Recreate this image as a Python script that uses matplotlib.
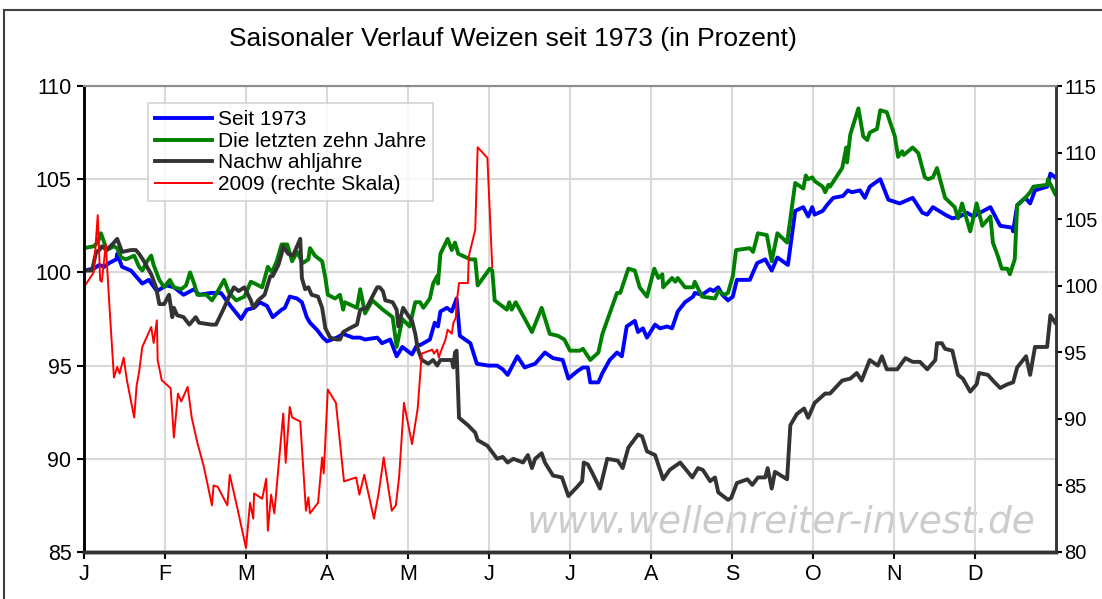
import matplotlib.pyplot as plt
from matplotlib.patches import Rectangle

plt.rcParams['font.family'] = ['Liberation Sans', 'DejaVu Sans']

months = ['J', 'F', 'M', 'A', 'M', 'J', 'J', 'A', 'S', 'O', 'N', 'D']

# x = months since 1 January
seit_x = [0, 0.12, 0.19, 0.25, 0.31, 0.40, 0.41, 0.47, 0.58, 0.64,
          0.72, 0.80, 0.90, 1.02, 1.11, 1.23, 1.36, 1.42, 1.57, 1.69,
          1.81, 1.94, 2.01, 2.10, 2.17, 2.26, 2.33, 2.44, 2.48, 2.54,
          2.63, 2.69, 2.75, 2.79, 2.88, 2.95, 3.00, 3.12, 3.20, 3.32,
          3.41, 3.47, 3.62, 3.68, 3.78, 3.86, 3.93, 4.05, 4.11, 4.15,
          4.27, 4.33, 4.37, 4.40, 4.48, 4.54, 4.60, 4.64, 4.77, 4.85,
          4.99, 5.10, 5.17, 5.23, 5.35, 5.44, 5.57, 5.69, 5.79, 5.91,
          5.98, 6.09, 6.16, 6.22, 6.25, 6.35, 6.40, 6.49, 6.58, 6.64,
          6.70, 6.80, 6.84, 6.90, 6.95, 7.05, 7.11, 7.20, 7.26, 7.33,
          7.42, 7.52, 7.54, 7.63, 7.73, 7.77, 7.83, 7.88, 7.95, 8.01,
          8.06, 8.22, 8.31, 8.41, 8.49, 8.56, 8.69, 8.78, 8.88, 8.94,
          8.99, 9.02, 9.12, 9.17, 9.25, 9.37, 9.43, 9.48, 9.58, 9.64,
          9.70, 9.83, 9.93, 10.07, 10.23, 10.35, 10.41, 10.48, 10.63, 10.72,
          10.81, 10.90, 10.98, 11.06, 11.19, 11.31, 11.46, 11.47, 11.52, 11.62,
          11.68, 11.74, 11.89, 11.93, 11.99]
seit_y = [100.1, 100.2, 100.4, 100.3, 100.5, 100.7, 101.0, 100.3, 100.1, 99.8,
          99.4, 99.6, 99.0, 99.3, 99.2, 98.8, 99.1, 98.8, 98.9, 98.9,
          98.2, 97.5, 98.0, 98.1, 98.4, 98.2, 97.6, 98.0, 98.1, 98.7,
          98.6, 98.4, 97.6, 97.3, 96.9, 96.5, 96.3, 96.5, 96.7, 96.5,
          96.5, 96.4, 96.5, 96.2, 96.4, 95.5, 96.0, 95.6, 96.1, 96.1,
          96.4, 97.3, 97.1, 97.9, 98.1, 97.9, 98.6, 96.6, 96.2, 95.1,
          95.0, 95.0, 94.8, 94.5, 95.5, 94.9, 95.1, 95.7, 95.4, 95.3,
          94.3, 94.7, 94.9, 94.9, 94.1, 94.1, 94.6, 95.3, 95.7, 95.5,
          97.1, 97.4, 96.8, 97.0, 96.5, 97.2, 97.0, 97.1, 97.0, 97.9,
          98.4, 98.7, 98.9, 98.8, 99.1, 99.0, 99.2, 98.8, 98.5, 98.7,
          99.6, 99.6, 100.5, 100.7, 100.1, 100.8, 100.4, 103.3, 103.5, 103.0,
          103.5, 103.1, 103.3, 103.6, 104.0, 104.1, 104.4, 104.3, 104.4, 104.0,
          104.6, 105.0, 103.9, 103.7, 104.0, 103.2, 103.1, 103.5, 103.1, 102.9,
          103.0, 103.2, 103.0, 103.2, 103.5, 102.5, 102.4, 102.2, 103.6, 104.0,
          103.7, 104.4, 104.6, 105.3, 105.1]

zehn_x = [0, 0.12, 0.17, 0.21, 0.25, 0.28, 0.37, 0.41, 0.46, 0.52,
          0.62, 0.68, 0.72, 0.78, 0.83, 0.86, 0.93, 0.99, 1.06, 1.11,
          1.20, 1.26, 1.31, 1.36, 1.40, 1.51, 1.58, 1.64, 1.73, 1.79,
          1.88, 1.98, 2.06, 2.11, 2.20, 2.27, 2.32, 2.38, 2.44, 2.51,
          2.57, 2.63, 2.70, 2.77, 2.79, 2.85, 2.94, 2.98, 3.01, 3.10,
          3.16, 3.20, 3.22, 3.37, 3.41, 3.47, 3.56, 3.69, 3.81, 3.86,
          3.93, 4.02, 4.09, 4.15, 4.19, 4.27, 4.31, 4.36, 4.37, 4.40,
          4.49, 4.54, 4.58, 4.62, 4.77, 4.83, 4.86, 5.01, 5.04, 5.07,
          5.22, 5.25, 5.28, 5.33, 5.53, 5.65, 5.75, 5.85, 5.93, 6.00,
          6.12, 6.16, 6.25, 6.35, 6.40, 6.49, 6.58, 6.62, 6.72, 6.80,
          6.86, 6.95, 7.04, 7.09, 7.14, 7.15, 7.26, 7.30, 7.33, 7.42,
          7.52, 7.54, 7.63, 7.79, 7.83, 7.91, 7.95, 8.01, 8.05, 8.22,
          8.26, 8.32, 8.43, 8.49, 8.56, 8.68, 8.78, 8.88, 8.91, 8.94,
          8.99, 9.02, 9.12, 9.15, 9.19, 9.21, 9.36, 9.41, 9.42, 9.46,
          9.56, 9.62, 9.67, 9.70, 9.79, 9.83, 9.91, 10.01, 10.05, 10.10,
          10.12, 10.23, 10.30, 10.38, 10.42, 10.48, 10.53, 10.63, 10.75, 10.79,
          10.84, 10.94, 11.02, 11.09, 11.19, 11.22, 11.28, 11.33, 11.40, 11.43,
          11.49, 11.52, 11.62, 11.68, 11.72, 11.89, 11.90, 11.99]
zehn_y = [101.3, 101.4, 101.6, 102.1, 101.6, 101.2, 101.4, 101.3, 100.8, 100.7,
          100.9, 100.3, 100.1, 100.6, 100.9, 100.4, 99.6, 99.2, 99.6, 99.2,
          99.1, 99.3, 100.0, 99.4, 98.8, 98.8, 98.5, 98.9, 99.6, 98.9,
          98.5, 98.7, 99.5, 99.4, 99.2, 100.3, 100.0, 100.6, 101.5, 101.5,
          100.6, 101.1, 100.5, 100.7, 101.3, 100.9, 100.6, 99.7, 98.8, 98.6,
          98.8, 98.0, 98.4, 98.1, 99.1, 97.8, 98.5, 98.0, 97.6, 96.0,
          97.5, 97.1, 98.4, 98.4, 98.1, 98.6, 99.4, 99.8, 99.4, 101.0,
          101.8, 101.2, 101.6, 101.0, 100.7, 100.7, 99.3, 100.2, 100.1, 98.5,
          98.0, 98.4, 98.0, 98.4, 96.8, 98.1, 96.7, 96.6, 96.4, 95.8,
          95.8, 95.9, 95.3, 95.7, 96.7, 97.8, 98.9, 98.9, 100.2, 100.1,
          99.2, 98.7, 100.2, 99.7, 99.9, 99.2, 99.7, 99.5, 99.7, 99.2,
          99.2, 99.5, 98.7, 98.6, 99.0, 98.8, 98.9, 99.8, 101.2, 101.3,
          101.1, 102.1, 102.0, 100.6, 102.1, 101.6, 104.8, 104.5, 105.2, 105.0,
          105.1, 104.9, 104.6, 104.3, 104.7, 104.6, 105.6, 106.7, 105.9, 107.4,
          108.8, 107.3, 107.1, 107.5, 107.7, 108.7, 108.6, 107.3, 106.2, 106.5,
          106.3, 106.7, 106.4, 105.1, 105.0, 105.1, 105.6, 104.0, 103.5, 102.9,
          103.7, 102.2, 103.7, 102.5, 103.0, 101.6, 100.9, 100.2, 100.2, 99.9,
          100.7, 103.6, 104.0, 104.3, 104.6, 104.7, 105.0, 104.2]

nach_x = [0, 0.10, 0.15, 0.19, 0.22, 0.28, 0.37, 0.41, 0.47, 0.58,
          0.64, 0.68, 0.74, 0.83, 0.89, 0.93, 0.99, 1.05, 1.09, 1.11,
          1.15, 1.23, 1.30, 1.38, 1.42, 1.57, 1.63, 1.73, 1.79, 1.85,
          1.91, 1.98, 2.06, 2.09, 2.15, 2.23, 2.30, 2.33, 2.40, 2.44,
          2.46, 2.52, 2.58, 2.67, 2.69, 2.73, 2.77, 2.81, 2.89, 2.94,
          2.98, 3.04, 3.12, 3.16, 3.20, 3.28, 3.37, 3.41, 3.49, 3.56,
          3.62, 3.65, 3.69, 3.72, 3.81, 3.86, 3.88, 3.94, 4.00, 4.05,
          4.09, 4.12, 4.17, 4.25, 4.31, 4.36, 4.40, 4.54, 4.56, 4.58,
          4.60, 4.63, 4.74, 4.83, 4.86, 4.98, 5.10, 5.17, 5.23, 5.30,
          5.42, 5.48, 5.53, 5.57, 5.65, 5.69, 5.79, 5.90, 5.98, 6.09,
          6.15, 6.17, 6.22, 6.28, 6.37, 6.46, 6.59, 6.65, 6.72, 6.84,
          6.89, 6.95, 7.05, 7.15, 7.23, 7.36, 7.51, 7.58, 7.64, 7.73,
          7.79, 7.83, 7.95, 7.99, 8.06, 8.19, 8.25, 8.32, 8.41, 8.44,
          8.49, 8.53, 8.68, 8.72, 8.80, 8.89, 8.94, 9.02, 9.15, 9.21,
          9.36, 9.46, 9.54, 9.60, 9.70, 9.80, 9.85, 9.91, 10.04, 10.14,
          10.23, 10.32, 10.41, 10.51, 10.53, 10.59, 10.63, 10.72, 10.79, 10.85,
          10.94, 11.02, 11.05, 11.16, 11.22, 11.31, 11.40, 11.47, 11.52, 11.63,
          11.68, 11.74, 11.89, 11.93, 11.99]
nach_y = [100.1, 100.1, 101.1, 101.2, 101.4, 101.2, 101.6, 101.8, 101.1, 101.2,
          101.2, 101.0, 100.6, 99.9, 99.2, 98.3, 98.3, 98.8, 97.6, 98.1,
          97.7, 97.6, 97.2, 97.6, 97.3, 97.2, 97.2, 98.1, 98.7, 99.2,
          99.0, 99.2, 98.5, 98.1, 98.5, 98.8, 99.8, 99.8, 100.4, 101.0,
          101.4, 101.0, 100.9, 101.8, 99.7, 99.1, 99.2, 98.8, 98.7, 98.1,
          97.0, 96.5, 96.4, 96.4, 96.8, 97.0, 97.2, 98.0, 98.1, 98.7,
          99.2, 99.2, 99.0, 98.5, 98.4, 98.0, 97.1, 98.1, 97.7, 97.4,
          96.7, 95.9, 95.3, 95.1, 95.3, 95.0, 95.3, 95.3, 94.9, 95.7,
          95.8, 92.2, 91.8, 91.4, 91.0, 90.7, 90.0, 90.1, 89.8, 90.0,
          89.8, 90.2, 89.5, 90.0, 90.3, 89.8, 89.1, 89.0, 88.0, 88.5,
          88.8, 89.8, 89.7, 89.2, 88.4, 90.0, 89.9, 89.5, 90.6, 91.3,
          91.2, 90.4, 90.2, 88.9, 89.4, 89.8, 89.0, 89.5, 89.4, 88.8,
          89.0, 88.2, 87.8, 87.9, 88.7, 88.9, 88.6, 89.0, 89.0, 89.5,
          88.4, 89.3, 88.9, 91.8, 92.4, 92.7, 92.2, 93.0, 93.5, 93.5,
          94.2, 94.3, 94.6, 94.2, 95.3, 95.0, 95.5, 94.8, 94.8, 95.4,
          95.2, 95.2, 94.8, 95.3, 96.2, 96.2, 95.9, 95.8, 94.5, 94.3,
          93.6, 94.0, 94.6, 94.5, 94.2, 93.8, 94.0, 94.1, 94.9, 95.5,
          94.5, 96.0, 96.0, 97.7, 97.3]

# 2009, right scale
y09_x = [0, 0.12, 0.17, 0.20, 0.22, 0.27, 0.31, 0.37, 0.41, 0.44,
         0.49, 0.53, 0.62, 0.65, 0.68, 0.72, 0.83, 0.86, 0.90, 0.91,
         0.96, 1.07, 1.11, 1.16, 1.20, 1.28, 1.33, 1.40, 1.48, 1.58,
         1.60, 1.65, 1.77, 1.80, 1.89, 2.00, 2.05, 2.09, 2.10, 2.20,
         2.25, 2.27, 2.31, 2.35, 2.46, 2.49, 2.54, 2.57, 2.67, 2.74,
         2.77, 2.79, 2.89, 2.94, 2.96, 3.01, 3.11, 3.21, 3.36, 3.40,
         3.46, 3.58, 3.64, 3.70, 3.80, 3.85, 3.89, 3.95, 4.05, 4.12,
         4.17, 4.30, 4.32, 4.36, 4.38, 4.42, 4.46, 4.49, 4.54, 4.56,
         4.59, 4.60, 4.63, 4.74, 4.75, 4.79, 4.83, 4.86, 4.98, 5.04]
y09_y = [99.9, 101.0, 105.3, 100.4, 100.3, 103.1, 98.9, 93.1, 93.9, 93.4,
         94.6, 92.9, 90.1, 92.5, 93.5, 95.4, 96.9, 95.7, 97.4, 94.4,
         92.9, 92.3, 88.6, 91.9, 91.3, 92.4, 90.1, 88.2, 86.4, 83.5,
         85.0, 84.9, 83.5, 85.8, 83.4, 80.3, 83.7, 82.5, 84.4, 84.0,
         85.5, 81.6, 84.3, 82.9, 90.4, 86.7, 90.9, 90.1, 89.8, 83.1,
         84.1, 82.9, 83.7, 87.1, 85.9, 92.2, 91.2, 85.3, 85.6, 84.3,
         85.8, 82.5, 84.5, 87.1, 83.1, 83.5, 85.6, 91.2, 88.1, 90.8,
         94.9, 95.2, 94.9, 95.2, 94.6, 95.3, 95.9, 96.7, 96.4, 97.2,
         97.6, 98.7, 100.2, 100.2, 102.2, 103.2, 104.2, 110.4, 109.6, 101.4]

fig = plt.figure(figsize=(11.02, 5.99), dpi=100)
ax = fig.add_axes([0.0762, 0.0785, 0.8821, 0.7779])
ax2 = ax.twinx()

l1, = ax.plot(seit_x, seit_y, color='#0000ff', lw=2.8, label='Seit 1973')
l2, = ax.plot(zehn_x, zehn_y, color='#008000', lw=2.8, label='Die letzten zehn Jahre')
l3, = ax.plot(nach_x, nach_y, color='#333333', lw=2.8, label='Nachw ahljahre')
l4, = ax2.plot(y09_x, y09_y, color='#ff0000', lw=1.4, label='2009 (rechte Skala)')

ax.set_xlim(0, 12)
ax.set_ylim(85, 110)
ax2.set_ylim(80, 115)
ax.set_yticks(range(85, 111, 5))
ax2.set_yticks(range(80, 116, 5))
ax.set_xticks(range(12))
ax.set_xticklabels(months)

ax.grid(True, color='#d9d9d9', lw=1.5)
ax.set_axisbelow(True)

for a in (ax, ax2):
    a.tick_params(direction='out', length=5, width=1.5, labelsize=15.5, pad=4)
    a.spines['top'].set_color('#8c8c8c')
    a.spines['top'].set_linewidth(1.5)
    a.spines['left'].set_color('black')
    a.spines['left'].set_linewidth(1.8)
    a.spines['right'].set_color('#333333')
    a.spines['right'].set_linewidth(1.8)
    a.spines['bottom'].set_color('#333333')
    a.spines['bottom'].set_linewidth(2.5)
ax2.tick_params(axis='y', labelsize=14.5, pad=2, length=4)

ax.text(0.709, 0.128, 'www.wellenreiter-invest.de', transform=fig.transFigure,
        family='DejaVu Sans', style='italic', fontsize=27, color='#cccccc',
        ha='center', va='center', zorder=0)

leg = ax2.legend(handles=[l1, l2, l3, l4], loc='upper left',
                 bbox_to_anchor=(0.1343, 0.828), bbox_transform=fig.transFigure,
                 fontsize=15, frameon=True, fancybox=False, borderaxespad=0,
                 labelspacing=0.12, handlelength=2.7, handletextpad=0.3,
                 borderpad=0.35)
leg.get_frame().set_edgecolor('#c8c8c8')
leg.get_frame().set_linewidth(1.2)

fig.text(0.4655, 0.935, 'Saisonaler Verlauf Weizen seit 1973 (in Prozent)',
         ha='center', va='center', fontsize=19)

fig.add_artist(Rectangle((4 / 1102, -0.05), 1.1, 1 - 10 / 599 + 0.05,
                         transform=fig.transFigure, fill=False,
                         edgecolor='#404040', lw=1.5, clip_on=False))

fig.savefig('out.png', dpi=100)
